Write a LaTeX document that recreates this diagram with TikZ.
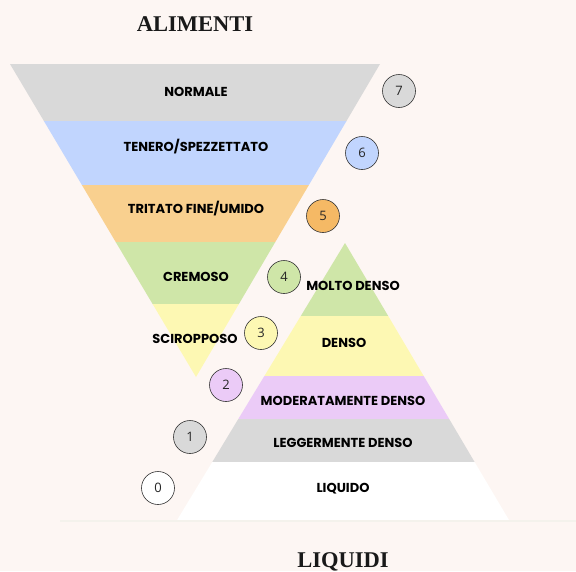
\documentclass[tikz,border=0pt]{standalone}
\usepackage{fontspec}
\setmainfont{Liberation Serif}
\newfontfamily\labfont{Poppins}
\newfontfamily\numfont{Open Sans}
\definecolor{bg}{HTML}{FDF6F3}
\definecolor{cgrey}{HTML}{D9D9D9}
\definecolor{cblue}{HTML}{C1D5FE}
\definecolor{corange}{HTML}{F9D08F}
\definecolor{corangedk}{HTML}{F5B965}
\definecolor{cgreen}{HTML}{CFE6A8}
\definecolor{cyellow}{HTML}{FDF8B3}
\definecolor{cpurple}{HTML}{EBCBF7}
\definecolor{cline}{HTML}{F4F2EC}
\tikzset{
  lab/.style={font=\labfont\bfseries\fontsize{13}{15}\selectfont, text=black, inner sep=0pt},
  num/.style={circle, draw=black!80, line width=0.6pt, minimum size=33pt, inner sep=0pt, font=\numfont\fontsize{13}{15}\selectfont, text=black!85},
  ttl/.style={font=\bfseries\fontsize{22.5}{26}\selectfont, text=black!90, inner sep=0pt, anchor=base},
}
\begin{document}
\begin{tikzpicture}[x=1pt,y=-1pt]
\fill[bg] (0,0) rectangle (576,571);
\useasboundingbox (0,0) rectangle (576,571);
% funnel
\fill[cgrey]   (10,64) -- (380,64) -- (346.5,121) -- (43.9,121) -- cycle;
\fill[cblue]   (43.9,121) -- (346.5,121) -- (308.9,185) -- (81.9,185) -- cycle;
\fill[corange] (81.9,185) -- (308.9,185) -- (275.3,242) -- (115.7,242) -- cycle;
\fill[cgreen]  (115.7,242) -- (275.3,242) -- (238.9,304) -- (152.6,304) -- cycle;
\fill[cyellow] (152.6,304) -- (238.9,304) -- (196,377) -- cycle;
% pyramid
\fill[cgreen]  (345,243) -- (388.2,316) -- (300.8,316) -- cycle;
\fill[cyellow] (300.8,316) -- (388.2,316) -- (423.7,376) -- (264.4,376) -- cycle;
\fill[cpurple] (264.4,376) -- (423.7,376) -- (449.2,419) -- (238.3,419) -- cycle;
\fill[cgrey]   (238.3,419) -- (449.2,419) -- (474.6,462) -- (212.3,462) -- cycle;
\fill[white]   (212.3,462) -- (474.6,462) -- (509,520) -- (177.1,520) -- cycle;
\draw[cline, line width=2pt] (60,521) -- (576,521);
% titles
\node[ttl] (alimenti) at (195,31) {ALIMENTI};
\node[ttl] (liquidi) at (343,567) {LIQUIDI};
% funnel labels
\node[lab] (normale) at (196,92) {NORMALE};
\node[lab] (tenero) at (196,147) {TENERO/SPEZZETTATO};
\node[lab] (tritato) at (196,209) {TRITATO FINE/UMIDO};
\node[lab] (cremoso) at (196,277) {CREMOSO};
\node[lab] (sciroppo) at (195,339) {SCIROPPOSO};
% pyramid labels
\node[lab] (molto) at (353,286) {MOLTO DENSO};
\node[lab] (denso) at (344,343) {DENSO};
\node[lab] (moder) at (343,401) {MODERATAMENTE DENSO};
\node[lab] (legg) at (343,443) {LEGGERMENTE DENSO};
\node[lab] (liquido) at (343,489) {LIQUIDO};
% numbers
\node[num, fill=cgrey]     (n7) at (399,91) {7};
\node[num, fill=cblue]     (n6) at (362,153) {6};
\node[num, fill=corangedk] (n5) at (323,216) {5};
\node[num, fill=cgreen]    (n4) at (284,277) {4};
\node[num, fill=cyellow]   (n3) at (261,333) {3};
\node[num, fill=cpurple]   (n2) at (226,385) {2};
\node[num, fill=cgrey]     (n1) at (190,437) {1};
\node[num, fill=white]     (n0) at (158,488) {0};
\end{tikzpicture}
\end{document}
